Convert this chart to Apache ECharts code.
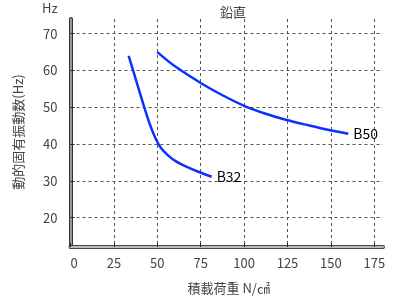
<!DOCTYPE html>
<html><head><meta charset="utf-8">
<script src="https://cdn.jsdelivr.net/npm/echarts@6/dist/echarts.min.js"></script>
<style>html,body{margin:0;padding:0;background:#fff}#c{width:400px;height:300px}</style>
</head><body><div id="c"></div>
<script>
const seriesNames = ['B32', 'B50'];
const b32 = [[33.5,64],[38,57],[42.5,50],[46,45],[49,41.5],[52,39],[56,37],[61,35.2],[67,33.8],[74,32.4],[81.3,31.1]];
const b50 = [[50,65],[60,61.2],[75,56.6],[87,53.4],[100,50.4],[112,48.3],[124,46.6],[137,45.1],[149,43.8],[160,42.8]];
const yTicks = [20,30,40,50,60,70];
const xTicks = [0,25,50,75,100,125,150,175];
const titleText = '鉛直';
const xName = '積載荷重 N/㎠';
const yName = '動的固有振動数(Hz)';
const yUnit = 'Hz';

const F = 'Noto Sans CJK JP';
const chart = echarts.init(document.getElementById('c'));
const gridLine = {show:true, lineStyle:{color:'#555', type:[3,3], width:1}};
chart.setOption({
  animation:false,
  textStyle:{fontFamily:F},
  title:{text:titleText, left:228, top:1, textAlign:'center', textStyle:{fontSize:13, fontWeight:'normal', color:'#444', fontFamily:F}},
  grid:{left:70.5, right:17, top:19, bottom:51},
  graphic:[
    {type:'text', left:42, top:2, style:{text:yUnit, fontSize:13, fill:'#444', fontFamily:F}},
    {type:'text', x:18, y:132, rotation:Math.PI/2, style:{text:yName, fontSize:13, fill:'#444', fontFamily:F, align:'center', verticalAlign:'middle'}}
  ],
  xAxis:[{
    type:'value', min:0, max:180,
    axisLine:{show:true, onZero:false, lineStyle:{color:'#444', width:4}},
    axisTick:{show:true, inside:true, length:4, lineStyle:{color:'#222'}, customValues:xTicks},
    axisLabel:{customValues:xTicks, fontSize:13, color:'#444', margin:10, fontFamily:F, alignMinLabel:'left'},
    splitLine:gridLine,
    name:xName, nameLocation:'middle', nameGap:35,
    nameTextStyle:{fontSize:13, color:'#444', fontFamily:F, padding:[0,0,0,4]}
  },{
    type:'value', min:0, max:180, position:'bottom',
    axisLine:{show:true, onZero:false, lineStyle:{color:'#bbb', width:2}},
    axisTick:{show:false}, axisLabel:{show:false}, splitLine:{show:false}
  }],
  yAxis:[{
    type:'value', min:12, max:74,
    axisLine:{show:true, onZero:false, lineStyle:{color:'#333', width:4}},
    axisTick:{show:true, inside:true, length:4, lineStyle:{color:'#222'}, customValues:yTicks},
    axisLabel:{customValues:yTicks, fontSize:13, color:'#444', margin:13, fontFamily:F},
    splitLine:gridLine
  },{
    type:'value', min:12, max:74, position:'left',
    axisLine:{show:true, onZero:false, lineStyle:{color:'#bbb', width:1.5}},
    axisTick:{show:false}, axisLabel:{show:false}, splitLine:{show:false}
  }],
  series:[b32, b50].map((d,i)=>({
    name:seriesNames[i], type:'line', data:d, smooth:0.3, symbol:'none',
    lineStyle:{color:'#0a32ff', width:2.5},
    endLabel:{show:true, formatter:'{a}', color:'#000', fontSize:14, distance:5, fontFamily:F}
  }))
});
</script></body></html>
